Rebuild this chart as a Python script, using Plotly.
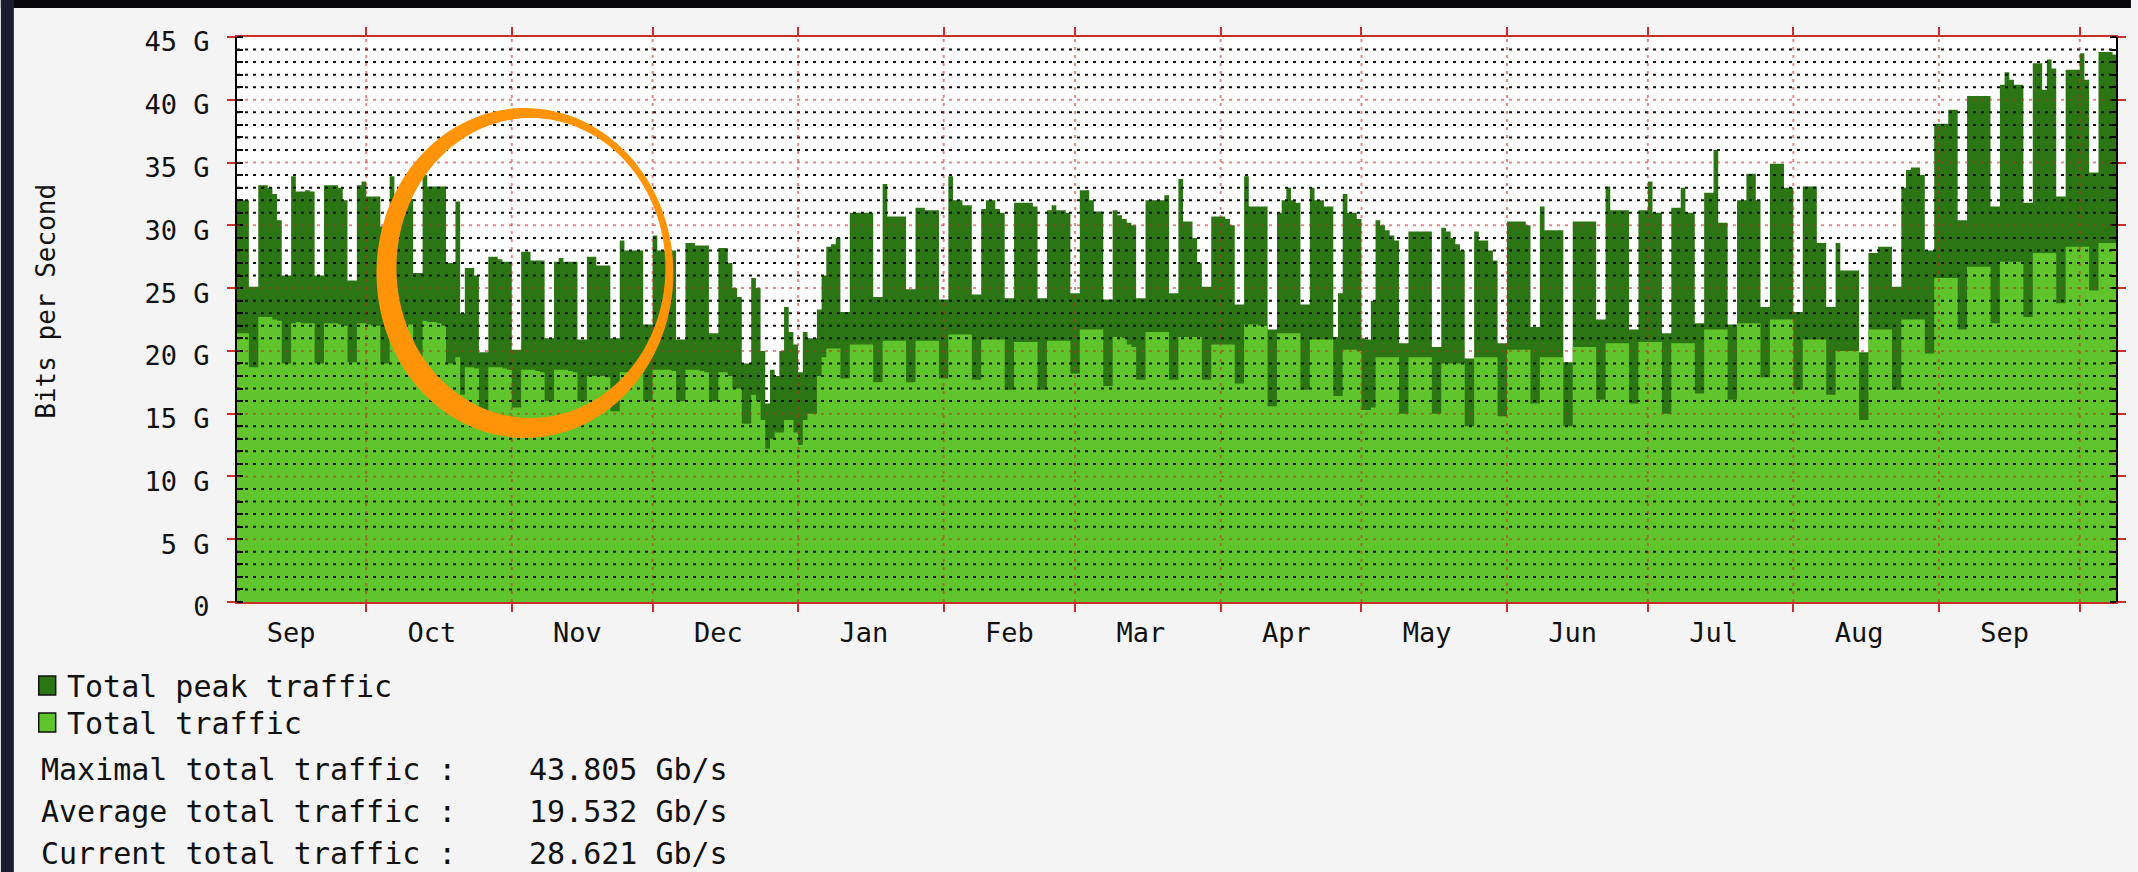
import numpy as np
import pandas as pd
import plotly.graph_objects as go

# ---------------- data (Gb/s, one value per day, weeks start on Monday) ----------------
start_date = "2008-09-01"

peak_gbps = [
    # Mon   Tue   Wed   Thu   Fri   Sat   Sun
    32.0, 32.0, 32.0, 32.0, 32.0, 25.1, 25.1,   # Sep 1
    33.2, 33.2, 33.0, 32.5, 30.4, 26.0, 26.0,   # Sep 8
    33.9, 32.7, 32.7, 32.8, 32.7, 26.0, 26.0,   # Sep 15
    33.2, 33.2, 33.2, 33.0, 32.0, 25.6, 25.6,   # Sep 22
    33.2, 33.5, 32.3, 32.3, 32.3, 29.9, 29.9,   # Sep 29
    33.9, 32.1, 32.1, 32.1, 32.1, 26.2, 26.2,   # Oct 6
    34.0, 33.1, 33.1, 33.1, 33.1, 27.0, 27.0,   # Oct 13
    31.9, 23.0, 26.6, 26.6, 26.0, 19.9, 19.9,   # Oct 20
    27.5, 27.5, 27.3, 27.1, 27.1, 20.1, 20.1,   # Oct 27
    27.9, 27.9, 27.2, 27.2, 27.2, 21.0, 21.0,   # Nov 3
    27.1, 27.4, 27.1, 27.1, 27.1, 20.9, 20.9,   # Nov 10
    27.5, 27.5, 26.8, 26.8, 26.8, 21.0, 21.0,   # Nov 17
    28.8, 28.0, 28.0, 28.0, 28.0, 22.1, 22.1,   # Nov 24
    29.2, 28.0, 28.0, 28.0, 28.0, 20.9, 20.9,   # Dec 1
    28.6, 28.6, 28.4, 28.4, 28.4, 21.4, 21.4,   # Dec 8
    28.2, 28.2, 27.0, 25.0, 24.3, 19.0, 19.0,   # Dec 15
    25.8, 25.0, 20.0, 15.8, 18.5, 18.0, 20.0,   # Dec 22
    23.5, 21.5, 20.5, 18.3, 21.5, 21.0, 21.0,   # Dec 29
    23.3, 26.0, 28.3, 28.5, 29.0, 23.1, 23.1,   # Jan 5
    31.0, 31.0, 31.0, 31.0, 31.0, 24.3, 24.3,   # Jan 12
    33.3, 30.7, 30.7, 30.7, 30.7, 24.9, 24.9,   # Jan 19
    31.4, 31.4, 31.2, 31.2, 31.2, 24.1, 24.1,   # Jan 26
    33.9, 32.0, 32.0, 31.6, 31.6, 24.5, 24.5,   # Feb 2
    31.3, 32.0, 32.0, 31.3, 31.0, 24.2, 24.2,   # Feb 9
    31.8, 31.8, 31.8, 31.8, 31.5, 24.2, 24.2,   # Feb 16
    31.2, 31.6, 31.2, 31.2, 31.0, 24.6, 24.6,   # Feb 23
    32.8, 32.8, 32.0, 31.1, 31.1, 24.1, 24.1,   # Mar 2
    31.2, 30.8, 30.5, 30.2, 30.0, 24.2, 24.2,   # Mar 9
    32.0, 32.0, 32.0, 32.0, 32.4, 24.6, 24.6,   # Mar 16
    33.7, 30.3, 30.3, 29.0, 27.0, 25.1, 25.1,   # Mar 23
    30.7, 30.7, 30.7, 30.5, 30.0, 23.7, 23.7,   # Mar 30
    33.9, 31.5, 31.5, 31.5, 31.5, 21.7, 21.7,   # Apr 6
    31.0, 32.0, 33.0, 32.0, 31.8, 23.7, 23.7,   # Apr 13
    33.0, 32.0, 32.0, 31.5, 31.5, 21.1, 24.6,   # Apr 20
    32.5, 31.0, 31.0, 30.5, 21.0, 20.9, 24.0,   # Apr 27
    30.4, 30.0, 29.6, 29.2, 28.8, 20.6, 20.6,   # May 4
    29.5, 29.5, 29.5, 29.5, 29.5, 20.3, 20.3,   # May 11
    29.8, 29.5, 29.0, 28.5, 28.0, 19.4, 19.4,   # May 18
    29.5, 28.8, 28.8, 28.0, 27.2, 20.6, 20.6,   # May 25
    30.3, 30.3, 30.3, 30.3, 30.0, 21.9, 21.9,   # Jun 1
    31.5, 29.6, 29.6, 29.6, 29.6, 19.1, 19.1,   # Jun 8
    30.3, 30.3, 30.3, 30.3, 30.3, 22.5, 22.5,   # Jun 15
    33.1, 31.2, 31.2, 31.2, 31.2, 21.7, 21.7,   # Jun 22
    31.2, 31.2, 33.5, 31.0, 31.0, 21.4, 21.4,   # Jun 29
    31.4, 31.4, 33.0, 31.0, 31.0, 22.2, 22.2,   # Jul 6
    32.6, 32.6, 36.0, 30.2, 30.2, 22.1, 22.1,   # Jul 13
    32.0, 32.0, 34.1, 34.1, 32.0, 23.5, 23.5,   # Jul 20
    34.9, 34.9, 34.9, 33.0, 33.0, 23.1, 23.1,   # Jul 27
    33.1, 33.1, 33.1, 28.6, 28.6, 23.5, 23.5,   # Aug 3
    28.6, 26.4, 26.4, 26.4, 26.4, 19.9, 19.9,   # Aug 10
    27.8, 27.8, 28.3, 28.3, 28.3, 25.1, 25.1,   # Aug 17
    33.0, 34.4, 34.6, 34.6, 34.0, 28.0, 28.0,   # Aug 24
    38.1, 38.1, 38.1, 39.2, 39.2, 30.4, 30.4,   # Aug 31
    40.3, 40.3, 40.3, 40.3, 40.3, 31.5, 31.5,   # Sep 7
    41.2, 42.2, 41.6, 41.2, 41.2, 31.8, 31.8,   # Sep 14
    42.9, 42.9, 40.8, 43.2, 42.5, 32.3, 32.3,   # Sep 21
    42.4, 42.4, 42.4, 43.7, 41.6, 34.2, 34.2,   # Sep 28
    43.8, 43.8, 43.8, 43.6, 43.6, 43.6, 43.6,   # Oct 5
]

avg_gbps = [
    # Mon   Tue   Wed   Thu   Fri   Sat   Sun
    21.4, 21.4, 21.4, 21.4, 21.4, 18.7, 18.7,   # Sep 1
    22.7, 22.7, 22.7, 22.5, 22.4, 19.0, 19.0,   # Sep 8
    22.2, 22.3, 22.2, 22.2, 22.2, 19.0, 19.0,   # Sep 15
    22.2, 22.2, 22.2, 22.1, 22.0, 19.1, 19.1,   # Sep 22
    22.2, 22.2, 22.1, 22.0, 22.0, 19.0, 19.0,   # Sep 29
    22.3, 22.2, 22.2, 22.1, 22.1, 19.0, 19.0,   # Oct 6
    22.4, 22.3, 22.3, 22.2, 22.0, 19.0, 19.0,   # Oct 13
    19.5, 16.5, 18.7, 18.7, 18.6, 15.2, 15.2,   # Oct 20
    18.7, 18.7, 18.7, 18.6, 18.5, 15.5, 15.5,   # Oct 27
    18.5, 18.5, 18.5, 18.4, 18.3, 16.0, 16.0,   # Nov 3
    18.5, 18.5, 18.5, 18.4, 18.3, 16.0, 16.0,   # Nov 10
    18.0, 18.0, 18.0, 18.0, 17.9, 15.2, 15.2,   # Nov 17
    18.3, 18.3, 18.3, 18.3, 18.2, 16.0, 16.0,   # Nov 24
    18.5, 18.5, 18.5, 18.5, 18.4, 16.0, 16.0,   # Dec 1
    18.5, 18.5, 18.5, 18.4, 18.3, 16.0, 16.0,   # Dec 8
    18.3, 18.3, 18.0, 17.0, 17.0, 14.2, 14.2,   # Dec 15
    16.5, 16.0, 14.5, 12.2, 13.0, 13.5, 13.5,   # Dec 22
    14.5, 14.5, 13.5, 12.5, 14.5, 15.0, 15.0,   # Dec 29
    18.0, 19.5, 20.2, 20.2, 20.2, 17.8, 17.8,   # Jan 5
    20.5, 20.5, 20.5, 20.5, 20.5, 17.5, 17.5,   # Jan 12
    20.8, 20.8, 20.8, 20.8, 20.8, 17.5, 17.5,   # Jan 19
    20.8, 20.8, 20.8, 20.8, 20.8, 17.8, 17.8,   # Jan 26
    21.3, 21.3, 21.3, 21.3, 21.3, 17.7, 17.7,   # Feb 2
    20.9, 20.9, 20.9, 20.9, 20.9, 16.9, 16.9,   # Feb 9
    20.7, 20.7, 20.7, 20.7, 20.7, 16.9, 16.9,   # Feb 16
    20.8, 20.8, 20.8, 20.8, 20.8, 18.2, 18.2,   # Feb 23
    21.7, 21.7, 21.7, 21.7, 21.7, 17.2, 17.2,   # Mar 2
    21.1, 21.1, 21.0, 20.5, 20.3, 17.7, 17.7,   # Mar 9
    21.5, 21.5, 21.5, 21.5, 21.5, 17.7, 17.7,   # Mar 16
    21.1, 21.1, 21.1, 21.1, 21.1, 17.7, 17.7,   # Mar 23
    20.5, 20.5, 20.5, 20.5, 20.5, 17.4, 17.4,   # Mar 30
    22.1, 22.1, 22.1, 22.0, 22.0, 15.6, 15.6,   # Apr 6
    21.4, 21.4, 21.4, 21.4, 21.4, 16.9, 16.9,   # Apr 13
    20.9, 20.9, 20.9, 20.9, 20.9, 16.4, 16.4,   # Apr 20
    20.1, 20.1, 20.1, 20.0, 15.3, 15.3, 15.5,   # Apr 27
    19.5, 19.5, 19.5, 19.5, 19.5, 15.0, 15.0,   # May 4
    19.5, 19.5, 19.5, 19.5, 19.5, 15.0, 15.0,   # May 11
    19.0, 19.0, 19.0, 19.0, 19.0, 14.0, 14.0,   # May 18
    19.5, 19.5, 19.5, 19.5, 19.5, 14.8, 14.8,   # May 25
    20.1, 20.1, 20.1, 20.1, 20.1, 15.8, 15.8,   # Jun 1
    19.5, 19.5, 19.5, 19.5, 19.5, 14.0, 14.0,   # Jun 8
    20.3, 20.3, 20.3, 20.3, 20.3, 16.1, 16.1,   # Jun 15
    20.6, 20.6, 20.6, 20.6, 20.6, 15.8, 15.8,   # Jun 22
    20.7, 20.7, 20.7, 20.7, 20.7, 15.0, 15.0,   # Jun 29
    20.6, 20.6, 20.6, 20.6, 20.6, 16.6, 16.6,   # Jul 6
    21.7, 21.7, 21.7, 21.7, 21.7, 16.1, 16.1,   # Jul 13
    22.2, 22.2, 22.2, 22.2, 22.2, 17.9, 17.9,   # Jul 20
    22.5, 22.5, 22.5, 22.5, 22.5, 16.9, 16.9,   # Jul 27
    20.9, 20.9, 20.9, 20.9, 20.9, 16.5, 16.5,   # Aug 3
    20.0, 20.0, 20.0, 20.0, 20.0, 14.5, 14.5,   # Aug 10
    21.7, 21.7, 21.7, 21.7, 21.7, 16.9, 16.9,   # Aug 17
    22.5, 22.5, 22.5, 22.5, 22.5, 19.8, 19.8,   # Aug 24
    25.8, 25.8, 25.8, 25.8, 25.8, 21.7, 21.7,   # Aug 31
    26.7, 26.7, 26.7, 26.7, 26.7, 22.2, 22.2,   # Sep 7
    27.1, 27.1, 27.1, 27.1, 27.1, 22.7, 22.7,   # Sep 14
    27.8, 27.8, 27.8, 27.8, 27.8, 23.8, 23.8,   # Sep 21
    28.3, 28.3, 28.3, 28.3, 28.3, 24.8, 24.8,   # Sep 28
    28.6, 28.6, 28.6, 28.6, 28.6, 28.6, 28.6,   # Oct 5
]

x_range = ["2008-09-03 11:15", "2009-10-08 17:30"]
month_starts = ["2008-10-01", "2008-11-01", "2008-12-01", "2009-01-01", "2009-02-01",
                "2009-03-01", "2009-04-01", "2009-05-01", "2009-06-01", "2009-07-01",
                "2009-08-01", "2009-09-01", "2009-10-01"]
month_label_dates = ["2008-09-15", "2008-10-15", "2008-11-15", "2008-12-15", "2009-01-15",
                     "2009-02-15", "2009-03-15", "2009-04-15", "2009-05-15", "2009-06-15",
                     "2009-07-15", "2009-08-15", "2009-09-15"]
month_labels = ["Sep", "Oct", "Nov", "Dec", "Jan", "Feb", "Mar", "Apr", "May", "Jun",
                "Jul", "Aug", "Sep"]
y_tick_vals = [0, 5, 10, 15, 20, 25, 30, 35, 40, 45]
y_tick_text = ["0", "5 G", "10 G", "15 G", "20 G", "25 G", "30 G", "35 G", "40 G", "45 G"]
y_minor_vals = list(range(0, 46))
legend_names = ["Total peak traffic", "Total traffic"]
stat_labels = ["Maximal total traffic :", "Average total traffic :", "Current total traffic :"]
stat_values = ["43.805 Gb/s", "19.532 Gb/s", "28.621 Gb/s"]

# ---------------- layout constants ----------------
W, H = 2138, 872
ML, MR, MT, MB = 237, 15, 37, 270
PW, PH = W - ML - MR, H - MT - MB
FONT = "DejaVu Sans Mono"
DARK = "#2c7514"
LIGHT = "#60c52c"
RED_GRID = "rgba(200,40,40,0.55)"


def px(xp):
    return (xp - ML) / PW


def py(yp):
    return (H - MB - yp) / PH


days = pd.date_range(start_date, periods=len(peak_gbps), freq="D")

fig = go.Figure()
fig.add_trace(go.Scatter(x=days, y=peak_gbps, name=legend_names[0], mode="lines",
                         line=dict(width=0, shape="hv", color=DARK),
                         fill="tozeroy", fillcolor=DARK, hoverinfo="skip"))
fig.add_trace(go.Scatter(x=days, y=avg_gbps, name=legend_names[1], mode="lines",
                         line=dict(width=0, shape="hv", color=LIGHT),
                         fill="tozeroy", fillcolor=LIGHT, hoverinfo="skip"))

shapes = []
# grid drawn over the data, like rrdtool
for g in y_minor_vals[1:-1]:
    major = g % 5 == 0
    shapes.append(dict(type="line", xref="paper", yref="y", x0=0, x1=1, y0=g, y1=g,
                       layer="above",
                       line=dict(color=RED_GRID if major else "#111111", width=2,
                                 dash="3px,5px")))
for m in month_starts:
    shapes.append(dict(type="line", xref="x", yref="paper", x0=m, x1=m, y0=0, y1=1,
                       layer="above", line=dict(color=RED_GRID, width=2, dash="3px,5px")))

# dark slide edges around the screenshot
shapes.append(dict(type="rect", xref="paper", yref="paper", x0=px(0), x1=px(W), y0=py(0),
                   y1=py(8), fillcolor="#08080c", line=dict(width=0), layer="above"))
shapes.append(dict(type="rect", xref="paper", yref="paper", x0=px(0), x1=px(13), y0=py(0),
                   y1=py(H), fillcolor="#1c1c30", line=dict(width=0), layer="above"))

# orange hand-drawn ellipse
t = np.linspace(0, 2 * np.pi, 120)
ocx, ocy, orx, ory = 526, 273, 149, 165
icx, icy, irx, iry = 532, 268, 135, 150
outer = [(px(ocx + orx * np.cos(a)), py(ocy + ory * np.sin(a))) for a in t]
inner = [(px(icx + irx * np.cos(a)), py(icy + iry * np.sin(a))) for a in t[::-1]]
path = "M " + " L ".join(f"{a:.5f},{b:.5f}" for a, b in outer) + " Z M " + \
       " L ".join(f"{a:.5f},{b:.5f}" for a, b in inner) + " Z"
shapes.append(dict(type="path", xref="paper", yref="paper", path=path, fillcolor="#ff9408",
                   line=dict(width=0), layer="above"))

# legend boxes
for i, col in enumerate([DARK, LIGHT]):
    y0 = 676 + i * 37
    shapes.append(dict(type="rect", xref="paper", yref="paper", x0=px(38), x1=px(55),
                       y0=py(y0), y1=py(y0 + 19), fillcolor=col,
                       line=dict(color="#111111", width=1.5)))

annotations = []
LEG_SIZE = 30
for i, name in enumerate(legend_names):
    annotations.append(dict(xref="paper", yref="paper", x=px(64), y=py(686 + i * 37),
                            text=name, showarrow=False, xanchor="left", yanchor="middle",
                            font=dict(family=FONT, size=LEG_SIZE, color="#111111")))
for i, (lab, val) in enumerate(zip(stat_labels, stat_values)):
    yy = 769 + i * 42
    annotations.append(dict(xref="paper", yref="paper", x=px(38), y=py(yy), text=lab,
                            showarrow=False, xanchor="left", yanchor="middle",
                            font=dict(family=FONT, size=LEG_SIZE, color="#111111")))
    annotations.append(dict(xref="paper", yref="paper", x=px(528), y=py(yy), text=val,
                            showarrow=False, xanchor="left", yanchor="middle",
                            font=dict(family=FONT, size=LEG_SIZE, color="#111111")))
annotations.append(dict(xref="paper", yref="paper", x=px(45), y=py(301),
                        text="Bits per Second", textangle=-90, showarrow=False,
                        xanchor="center", yanchor="middle",
                        font=dict(family=FONT, size=26, color="#111111")))

fig.update_layout(
    width=W, height=H,
    margin=dict(l=ML, r=MR, t=MT, b=MB, pad=0),
    paper_bgcolor="#f4f4f4", plot_bgcolor="#ffffff",
    showlegend=False,
    shapes=shapes, annotations=annotations,
    xaxis=dict(type="date", range=x_range, tickmode="array", tickvals=month_label_dates,
               ticktext=month_labels, ticks="", showgrid=False, zeroline=False,
               showline=True, linecolor="#c83030", linewidth=2, mirror="ticks",
               ticklabelstandoff=6, layer="above traces",
               tickfont=dict(family=FONT, size=27, color="#111111"),
               minor=dict(tickmode="array", tickvals=month_starts, ticks="outside",
                          ticklen=8, tickwidth=2, tickcolor="#c83030", showgrid=False)),
    yaxis=dict(range=[0, 45], tickmode="array", tickvals=y_tick_vals, ticktext=y_tick_text,
               ticks="outside", ticklen=8, tickwidth=2, tickcolor="#c83030",
               showgrid=False, zeroline=False, showline=True, linecolor="#000000",
               linewidth=2, mirror="ticks", ticklabelstandoff=12, ticklabelshift=5,
               layer="above traces",
               tickfont=dict(family=FONT, size=27, color="#111111"),
               minor=dict(tickmode="array", tickvals=y_minor_vals, ticks="inside",
                          ticklen=6, tickwidth=2, tickcolor="#000000", showgrid=False)),
)

fig.write_html("out.html", config={"displayModeBar": False},
               post_script="document.body.style.margin='0';")
